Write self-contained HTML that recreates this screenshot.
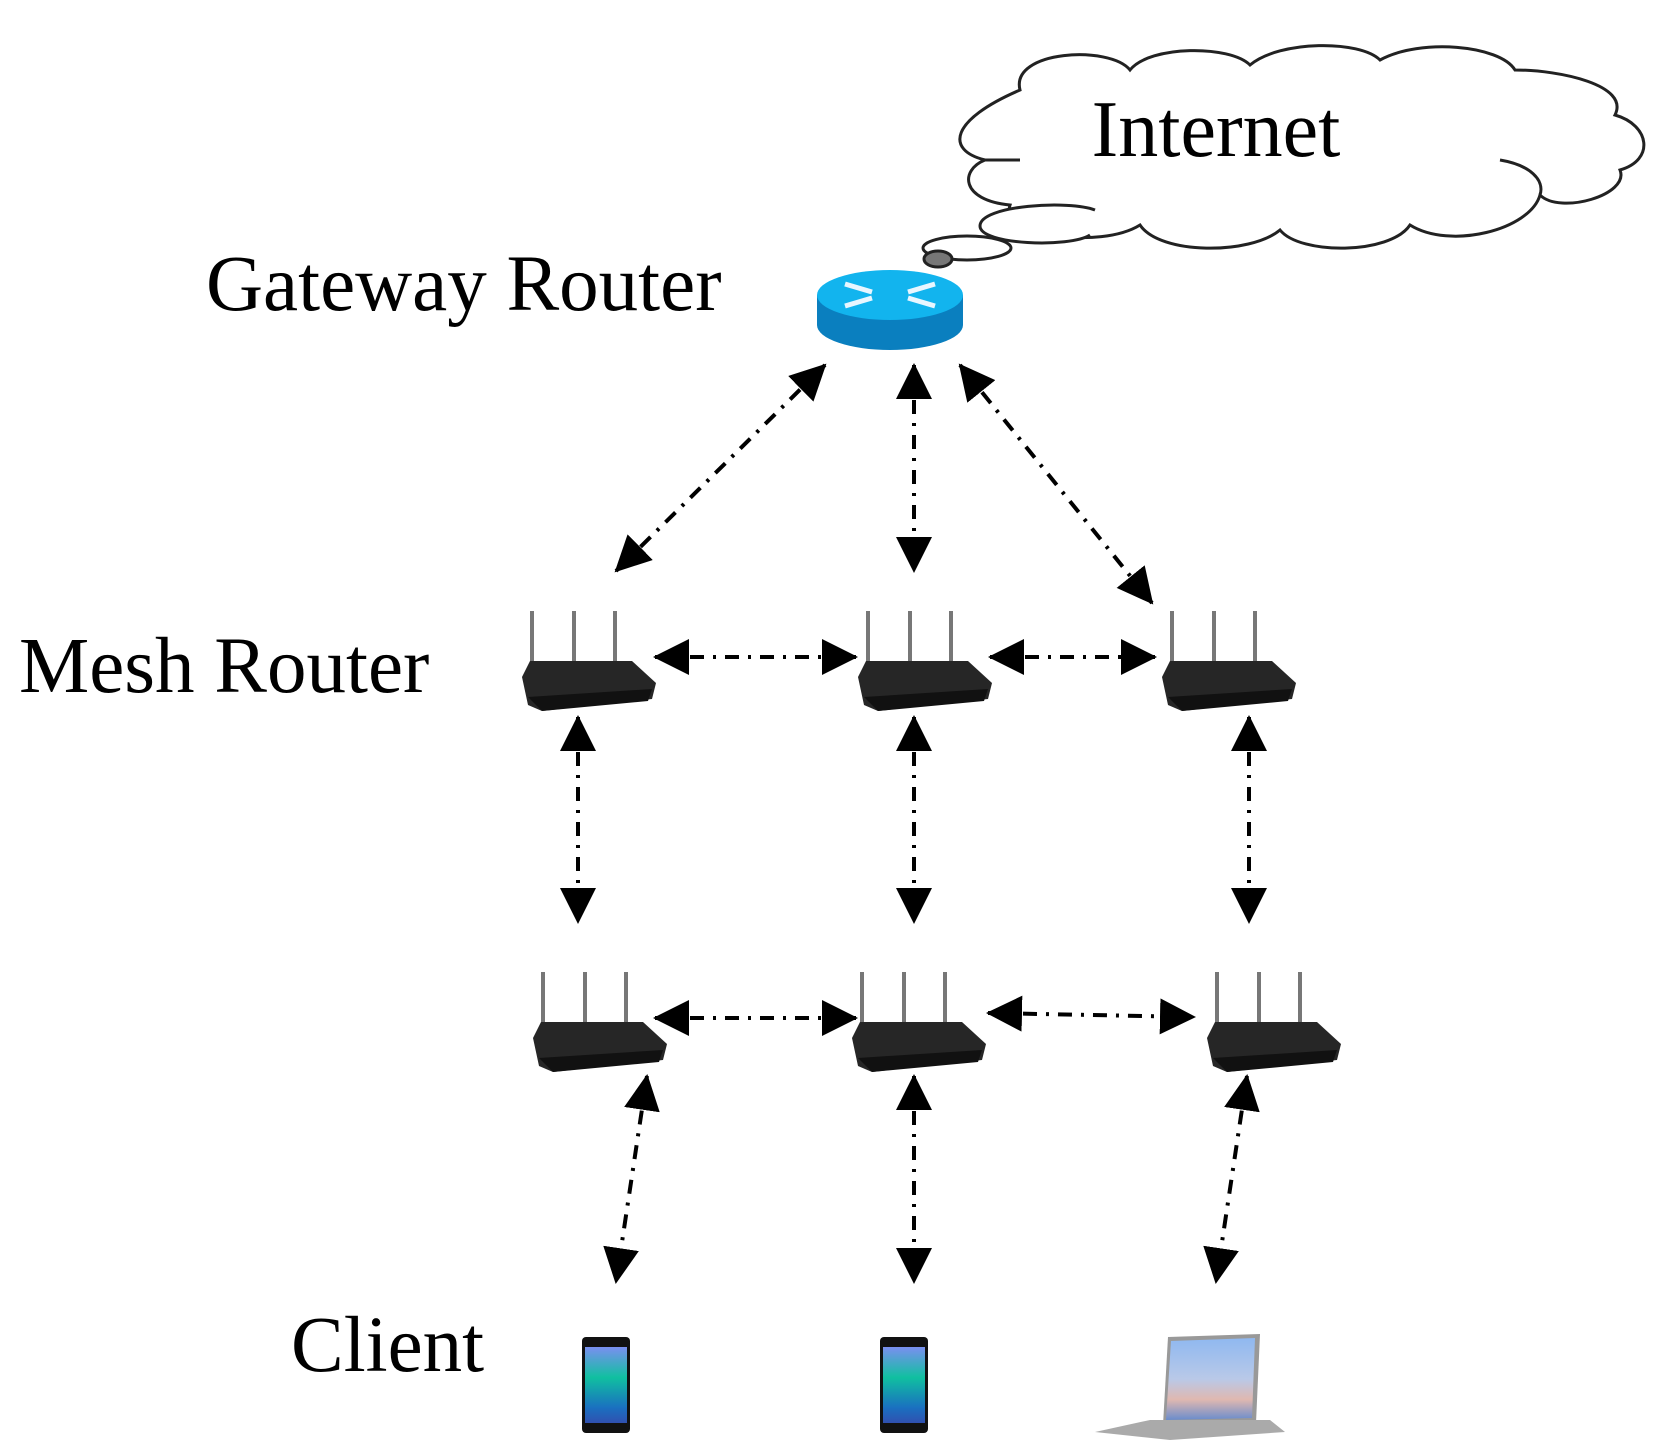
<!DOCTYPE html>
<html><head><meta charset="utf-8"><style>
html,body{margin:0;padding:0;background:#fff;}
svg{display:block;}
text{font-family:"Liberation Serif",serif;fill:#000;}
</style></head><body>
<svg width="1658" height="1455" viewBox="0 0 1658 1455" xmlns="http://www.w3.org/2000/svg">
<defs>
<marker id="ah" markerUnits="userSpaceOnUse" markerWidth="40" markerHeight="40" refX="34" refY="18" orient="auto-start-reverse">
<path d="M0,0 L36,18 L0,36 Z" fill="#000"/>
</marker>
<linearGradient id="scr" x1="0" y1="0" x2="0" y2="1">
<stop offset="0" stop-color="#8fb8f0"/><stop offset="0.5" stop-color="#b9c9e8"/><stop offset="0.75" stop-color="#e0b8b0"/><stop offset="1" stop-color="#6a8ccc"/>
</linearGradient>
<linearGradient id="ph" x1="0" y1="0" x2="0" y2="1">
<stop offset="0" stop-color="#7a8ff0"/><stop offset="0.4" stop-color="#10c0a0"/><stop offset="0.8" stop-color="#1a70c0"/><stop offset="1" stop-color="#3050b0"/>
</linearGradient>
<g id="mesh">
<rect x="8" y="0" width="4" height="62" fill="#777"/>
<rect x="50" y="0" width="4" height="62" fill="#777"/>
<rect x="91" y="0" width="4" height="62" fill="#777"/>
<path d="M0,66 L8,50 L110,50 L134,72 L130,88 L20,100 L6,94 Z" fill="#262626"/>
<path d="M6,86 L130,78 L126,90 L20,100 Z" fill="#111"/>
</g>
</defs>

<!-- Cloud -->
<g fill="#fff" stroke="#222" stroke-width="3">
<path d="M1020,90 C1010,50 1110,45 1130,70 C1150,45 1230,45 1250,65 C1280,40 1360,40 1380,60 C1420,38 1500,45 1515,70 C1560,70 1630,85 1615,115 C1650,125 1655,160 1620,170 C1630,195 1560,215 1540,195 C1530,230 1450,250 1410,225 C1390,255 1300,255 1280,230 C1250,255 1160,255 1140,225 C1100,250 1000,235 1010,205 C960,200 960,170 985,160 C945,150 950,120 1020,90 Z"/>
<path d="M1095,210 C1070,200 980,205 980,226 C980,245 1070,248 1090,235" fill="#fff"/>
<ellipse cx="967" cy="248" rx="44" ry="12"/>
<ellipse cx="938" cy="259" rx="14" ry="8" fill="#777"/>
</g>
<path d="M1020,160 L985,160" stroke="#222" stroke-width="3" fill="none"/>
<path d="M1500,160 C1530,165 1545,180 1540,195" stroke="#222" stroke-width="3" fill="none"/>
<text x="1216" y="156" font-size="80" text-anchor="middle">Internet</text>

<!-- Labels -->
<text x="206" y="310" font-size="79">Gateway Router</text>
<text x="19" y="692" font-size="79">Mesh Router</text>
<text x="291" y="1371" font-size="79">Client</text>

<!-- Gateway router -->
<path d="M817,295 L817,325 A73,25 0 0 0 963,325 L963,295 Z" fill="#0a7fbf"/>
<ellipse cx="890" cy="295" rx="73" ry="25" fill="#12b4ee"/>
<g stroke="#e8f6ff" stroke-width="5" fill="none">
<path d="M845,284 L872,292 M845,306 L872,298 M935,284 L908,292 M935,306 L908,298"/>
</g>

<!-- Mesh routers -->
<use href="#mesh" x="522" y="611"/>
<use href="#mesh" x="858" y="611"/>
<use href="#mesh" x="1162" y="611"/>
<use href="#mesh" x="533" y="972"/>
<use href="#mesh" x="852" y="972"/>
<use href="#mesh" x="1207" y="972"/>

<!-- Clients -->
<rect x="582" y="1337" width="48" height="96" rx="4" fill="#111"/>
<rect x="585" y="1347" width="42" height="76" fill="url(#ph)"/>
<rect x="880" y="1337" width="48" height="96" rx="4" fill="#111"/>
<rect x="883" y="1347" width="42" height="76" fill="url(#ph)"/>
<path d="M1168,1337 L1260,1334 L1256,1423 L1163,1425 Z" fill="#999"/>
<path d="M1171,1341 L1255,1338 L1252,1418 L1166,1420 Z" fill="url(#scr)"/>
<path d="M1095,1432 L1150,1420 L1270,1420 L1285,1432 L1170,1440 Z" fill="#aaa"/>

<!-- Arrows -->
<g stroke="#000" stroke-width="4" fill="none" stroke-dasharray="14,9,3,9" marker-start="url(#ah)" marker-end="url(#ah)">
<line x1="825" y1="365" x2="616" y2="571"/>
<line x1="914" y1="365" x2="914" y2="571"/>
<line x1="960" y1="365" x2="1152" y2="603"/>
<line x1="655" y1="657" x2="856" y2="657"/>
<line x1="990" y1="657" x2="1155" y2="657"/>
<line x1="578" y1="717" x2="578" y2="922"/>
<line x1="914" y1="717" x2="914" y2="922"/>
<line x1="1249" y1="717" x2="1249" y2="922"/>
<line x1="655" y1="1018" x2="856" y2="1018"/>
<line x1="988" y1="1013" x2="1194" y2="1017"/>
<line x1="647" y1="1076" x2="616" y2="1282"/>
<line x1="914" y1="1076" x2="914" y2="1282"/>
<line x1="1247" y1="1076" x2="1216" y2="1282"/>
</g>
</svg>
</body></html>
